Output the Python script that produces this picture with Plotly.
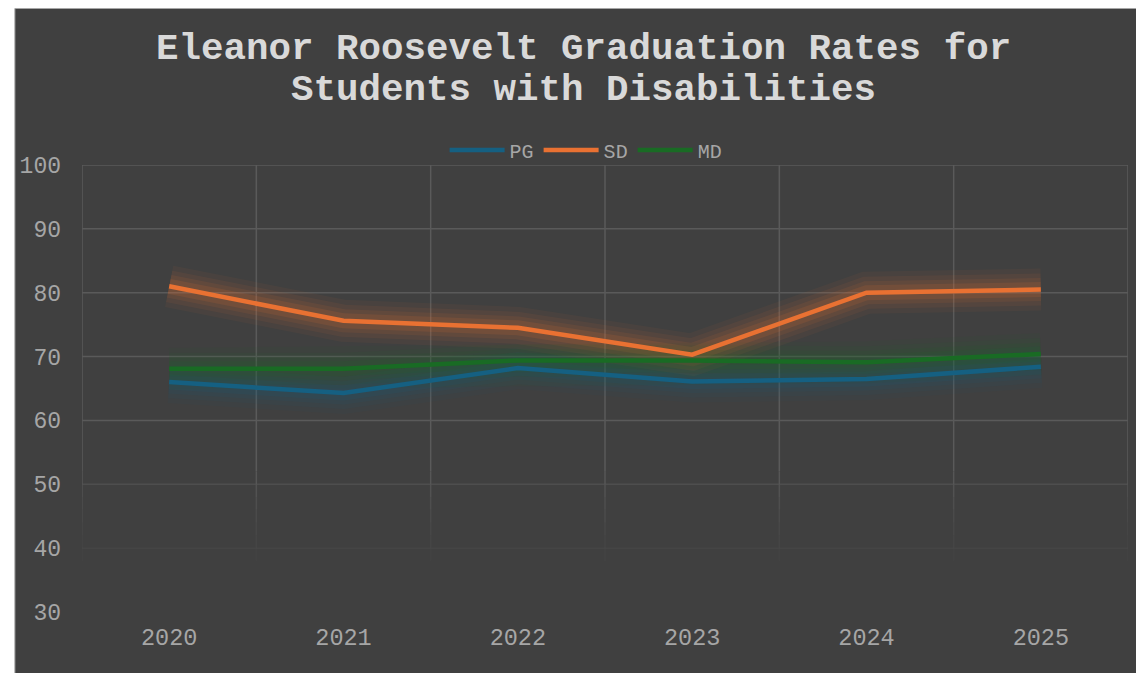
import plotly.graph_objects as go

years = ["2020", "2021", "2022", "2023", "2024", "2025"]
pg = [66.0, 64.3, 68.2, 66.1, 66.5, 68.4]
sd = [81.0, 75.6, 74.5, 70.3, 80.0, 80.5]
md = [68.1, 68.1, 69.4, 69.4, 69.1, 70.4]
series_names = ["PG", "SD", "MD"]
series_values = [pg, sd, md]
series_colors = ["#156082", "#E97132", "#196B24"]
title_lines = ["Eleanor Roosevelt Graduation Rates for", "Students with Disabilities"]
y_ticks = [30, 40, 50, 60, 70, 80, 90, 100]

OFF = 8  # page body margin
W, H = 1144, 673
L, R, T, B = 76 - OFF, 16 + OFF, 165 - OFF, 61 + OFF
pw, ph = W - L - R, H - T - B
GRID = "#5a5a5a"

def px_x(p):  # screen px -> paper x
    return (p - OFF - L) / pw

def px_y(p):  # screen px -> paper y
    return 1 - (p - OFF - T) / ph

fig = go.Figure()

# soft glow under each line
for name, vals, col in zip(series_names, series_values, series_colors):
    for w, op in [(42, 0.05), (32, 0.07), (23, 0.09), (15, 0.12)]:
        fig.add_trace(go.Scatter(x=years, y=vals, mode="lines", showlegend=False,
                                 hoverinfo="skip", opacity=op,
                                 line=dict(color=col, width=w)))

for name, vals, col in zip(series_names, series_values, series_colors):
    fig.add_trace(go.Scatter(x=years, y=vals, mode="lines", name=name,
                             line=dict(color=col, width=4.5)))

shapes = []
shapes.append(dict(type="rect", xref="paper", yref="paper",
                   x0=px_x(OFF + 0.5), x1=px_x(1200), y0=px_y(720), y1=px_y(OFF + 0.5),
                   fillcolor="#404040", line=dict(color="#a6a6a6", width=1),
                   layer="below"))

# horizontal gridlines, fading toward the bottom
fade_h = {50: 0.55, 40: 0.2, 30: 0.0}
for v in y_ticks:
    op = fade_h.get(v, 1.0)
    if op > 0:
        shapes.append(dict(type="line", xref="paper", yref="y", x0=0, x1=1, y0=v, y1=v,
                           line=dict(color=GRID, width=1.5), opacity=op, layer="below"))

# vertical gridlines at category boundaries, fading toward the bottom
segs = [(100, 52, 1.0), (52, 50, 0.85), (50, 48, 0.7), (48, 46, 0.55), (46, 44, 0.42),
        (44, 42, 0.3), (42, 40, 0.2), (40, 38, 0.1)]
for i in range(len(years) + 1):
    for a, b, op in segs:
        shapes.append(dict(type="line", xref="x", yref="y", x0=i - 0.5, x1=i - 0.5,
                           y0=b, y1=a, line=dict(color=GRID, width=1.5), opacity=op,
                           layer="below"))

annotations = []
for txt, yc in zip(title_lines, [49, 90]):
    annotations.append(dict(text=f"<b>{txt}</b>", xref="paper", yref="paper",
                            x=px_x(580), y=px_y(yc), xanchor="center", yanchor="middle",
                            showarrow=False,
                            font=dict(family="Liberation Mono", size=37.5, color="#d9d9d9")))

fig.update_layout(
    width=W, height=H,
    margin=dict(l=L, r=R, t=T, b=B),
    paper_bgcolor="white",
    plot_bgcolor="rgba(0,0,0,0)",
    shapes=shapes,
    annotations=annotations,
    legend=dict(orientation="h", x=px_x(583), xanchor="center",
                y=px_y(150), yanchor="middle",
                font=dict(family="Liberation Mono", size=20, color="#a6a6a6"),
                bgcolor="rgba(0,0,0,0)", itemwidth=55),
    showlegend=True,
)
fig.update_xaxes(type="category", showgrid=False, zeroline=False, showline=False,
                 range=[-0.5, len(years) - 0.5],
                 tickfont=dict(family="Liberation Mono", size=23.5, color="#a6a6a6"),
                 ticks="", ticklabelstandoff=8)
fig.update_yaxes(range=[30, 100], tickvals=y_ticks, showgrid=False,
                 zeroline=False, showline=False,
                 tickfont=dict(family="Liberation Mono", size=23, color="#a6a6a6"),
                 ticks="", ticklabelstandoff=20)

fig.write_html("out.html")
